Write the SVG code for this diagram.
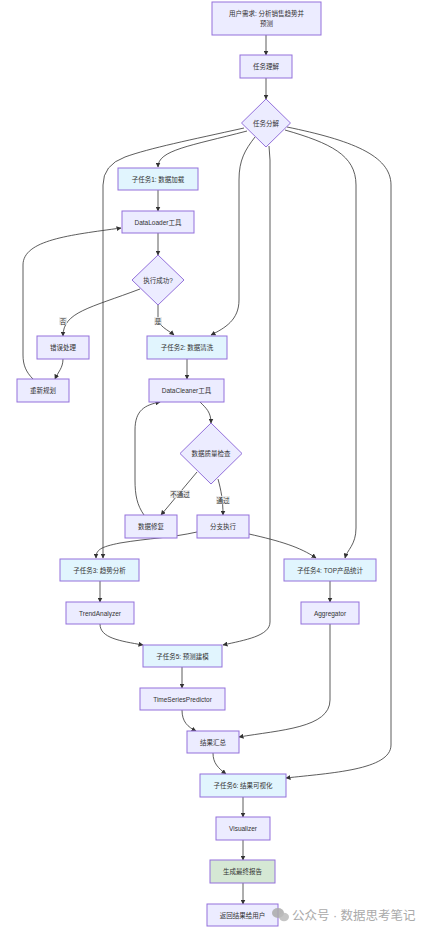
<svg xmlns="http://www.w3.org/2000/svg" width="428" height="933" viewBox="0 0 428 933">
<defs>
<marker id="arr" viewBox="0 0 10 10" refX="9" refY="5" markerWidth="5" markerHeight="5" orient="auto-start-reverse" markerUnits="userSpaceOnUse"><path d="M0,0 L10,5 L0,10 z" fill="#333"/></marker>
<style>
.n rect,.n polygon{fill:#ECECFF;stroke:#9370DB;stroke-width:1}
.sub rect{fill:#E1F5FE}
.fin rect{fill:#D5E8D4}
text{font-family:"Liberation Sans","Noto Sans CJK SC",sans-serif;font-size:6.5px;fill:#333;text-anchor:middle;dominant-baseline:central}
#edges path{fill:none;stroke:#333;stroke-width:0.8;marker-end:url(#arr)}
.lbl rect{fill:#e8e8e8;opacity:0.85}
</style>
</defs>
<rect width="428" height="933" fill="#fff"/>
<g id="edges">
<path d="M266,35 L266,55"/>
<path d="M266,78 L266,99"/>
<path d="M247,131 C190,146 158,150 158,167"/>
<path d="M244,128 C190,140 150,148 125,157 Q103,165 103,185 L103,558"/>
<path d="M255,137 C245,150 239,160 239,180 L239,300 C239,320 225,328 211,335"/>
<path d="M269,146 L270,160 L270,622 C270,636 245,640 223,645"/>
<path d="M285,130 C330,143 356,155 356,185 L356,528 C356,545 347,550 345,558"/>
<path d="M287,127 C350,140 391,155 391,185 L391,745 C391,770 330,773 286,778"/>
<path d="M158,190 L158,211"/>
<path d="M158,233 L158,255"/>
<path d="M140,289 C90,308 63,312 63,336"/>
<path d="M158,305 L158,318 C158,326 168,330 174,335"/>
<path d="M63,359 C63,368 58,372 55,379"/>
<path d="M33,379 C26,372 23,365 23,355 L23,265 C23,240 70,235 121,228"/>
<path d="M187,359 L187,379"/>
<path d="M200,402 C206,408 211,412 211,423"/>
<path d="M197,472 L161,515"/>
<path d="M218,479 C221,490 223,500 223,515"/>
<path d="M144,515 C137,505 135,495 135,480 L135,430 C135,410 145,405 160,402"/>
<path d="M197,532 C170,538 150,538 120,543 C100,547 96,550 96,558"/>
<path d="M249,534 C280,541 300,547 316,558"/>
<path d="M100,581 L100,602"/>
<path d="M330,581 L330,602"/>
<path d="M100,624 C100,638 120,641 143,645"/>
<path d="M330,624 L330,700 C330,728 280,730 239,737"/>
<path d="M182,667 L182,688"/>
<path d="M182,710 C182,722 188,727 196,731"/>
<path d="M213,753 C213,763 218,768 226,774"/>
<path d="M243,797 L243,817"/>
<path d="M243,840 L243,860"/>
<path d="M243,883 L243,904"/>
</g>
<g id="edge-labels">
<g class="lbl"><rect x="59" y="317" width="8" height="8"/><text x="63" y="321">否</text></g>
<g class="lbl"><rect x="154" y="317" width="8" height="8"/><text x="158" y="321">是</text></g>
<g class="lbl"><rect x="170" y="490" width="20" height="8"/><text x="180" y="494">不通过</text></g>
<g class="lbl"><rect x="216" y="496" width="14" height="8"/><text x="223" y="500">通过</text></g>
</g>
<g id="n-req" class="n"><rect x="212" y="2" width="109" height="33"/><text x="266.5" y="13">用户需求: 分析销售趋势并</text><text x="266.5" y="23">预测</text></g>
<g id="n-understand" class="n"><rect x="240" y="55" width="52" height="23"/><text x="266" y="66.5">任务理解</text></g>
<g id="n-decompose" class="n"><polygon points="266,99 290.5,123 266,147 241.5,123"/><text x="266" y="123">任务分解</text></g>
<g id="n-sub1" class="n sub"><rect x="118" y="168" width="80" height="22"/><text x="158" y="179">子任务1: 数据加载</text></g>
<g id="n-loader" class="n"><rect x="122" y="211" width="72" height="22"/><text x="158" y="222">DataLoader工具</text></g>
<g id="n-success" class="n"><polygon points="158,255 184,280 158,305 132,280"/><text x="158" y="280">执行成功?</text></g>
<g id="n-error" class="n"><rect x="37" y="336" width="52" height="23"/><text x="63" y="347.5">错误处理</text></g>
<g id="n-sub2" class="n sub"><rect x="147" y="336" width="80" height="23"/><text x="187" y="347.5">子任务2: 数据清洗</text></g>
<g id="n-replan" class="n"><rect x="17" y="379" width="52" height="23"/><text x="43" y="390.5">重新规划</text></g>
<g id="n-cleaner" class="n"><rect x="149" y="379" width="75" height="23"/><text x="186.5" y="390.5">DataCleaner工具</text></g>
<g id="n-quality" class="n"><polygon points="211,423 242,453.5 211,484 180,453.5"/><text x="211" y="453.5">数据质量检查</text></g>
<g id="n-repair" class="n"><rect x="125" y="515" width="52" height="23"/><text x="151" y="526.5">数据修复</text></g>
<g id="n-branch" class="n"><rect x="197" y="515" width="52" height="23"/><text x="223" y="526.5">分支执行</text></g>
<g id="n-sub3" class="n sub"><rect x="60" y="559" width="79" height="22"/><text x="99.5" y="570">子任务3: 趋势分析</text></g>
<g id="n-sub4" class="n sub"><rect x="284" y="559" width="92" height="22"/><text x="330" y="570">子任务4: TOP产品统计</text></g>
<g id="n-trend" class="n"><rect x="66" y="602" width="68" height="22"/><text x="100" y="613">TrendAnalyzer</text></g>
<g id="n-agg" class="n"><rect x="301" y="602" width="58" height="22"/><text x="330" y="613">Aggregator</text></g>
<g id="n-sub5" class="n sub"><rect x="143" y="645" width="79" height="22"/><text x="182.5" y="656">子任务5: 预测建模</text></g>
<g id="n-tsp" class="n"><rect x="140" y="688" width="85" height="22"/><text x="182.5" y="699">TimeSeriesPredictor</text></g>
<g id="n-summary" class="n"><rect x="187" y="731" width="52" height="22"/><text x="213" y="742">结果汇总</text></g>
<g id="n-sub6" class="n sub"><rect x="200" y="774" width="86" height="23"/><text x="243" y="785.5">子任务6: 结果可视化</text></g>
<g id="n-vis" class="n"><rect x="216" y="817" width="54" height="23"/><text x="243" y="828.5">Visualizer</text></g>
<g id="n-report" class="n fin"><rect x="210" y="860" width="65" height="23"/><text x="242.5" y="871.5">生成最终报告</text></g>
<g id="n-return" class="n"><rect x="207" y="904" width="71" height="22"/><text x="242.5" y="915">返回结果给用户</text></g>
<g id="watermark">
<ellipse cx="278" cy="913" rx="6" ry="5" fill="#aaa" opacity="0.85"/>
<ellipse cx="284" cy="917" rx="5" ry="4.2" fill="#bbb" opacity="0.85"/>
<text x="292" y="915.5" style="font-size:12.5px;fill:#aaa;text-anchor:start">公众号 · 数据思考笔记</text>
</g>
</svg>
